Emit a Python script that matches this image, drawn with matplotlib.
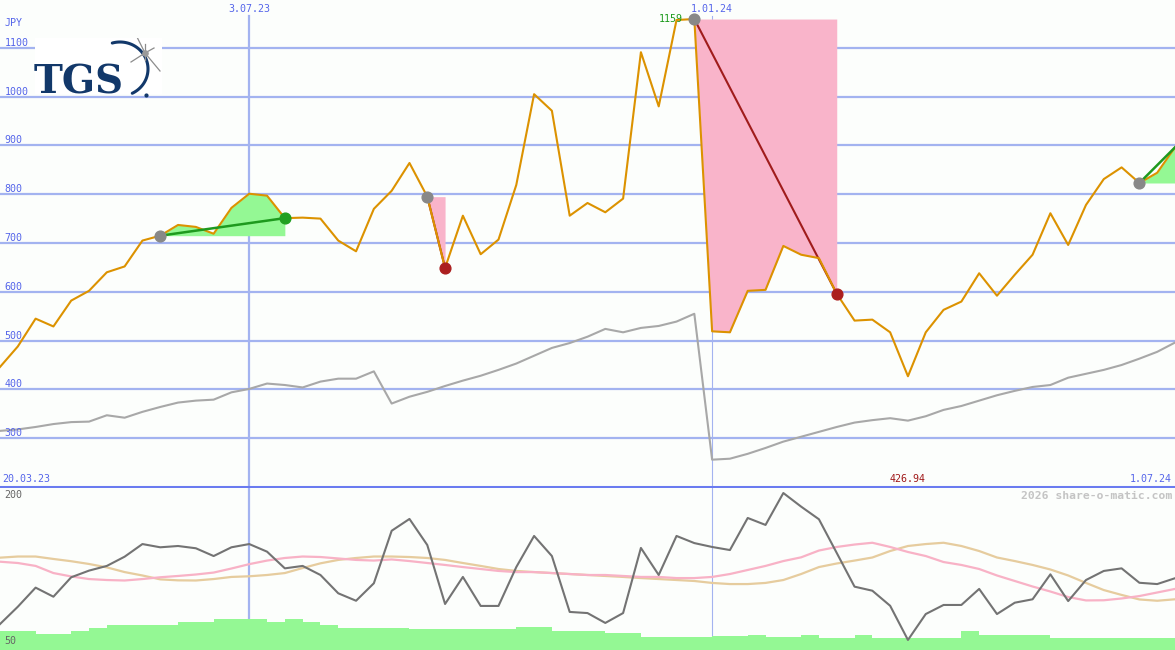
import numpy as np
import pandas as pd
import matplotlib
matplotlib.use("Agg")
import matplotlib.pyplot as plt
import matplotlib.transforms as mtransforms

# weekly closes (JPY) and a comparison series
dates = pd.date_range("2023-03-27", periods=67, freq="7D")

price = [446, 488, 545, 529, 582, 602, 640, 652, 705, 715,
         737, 733, 719, 772, 801, 797, 751, 752, 750, 705,
         683, 770, 807, 864, 795, 649, 756, 677, 707, 819,
         1005, 971, 756, 782, 763, 791, 1091, 980, 1157, 1159,
         519, 517, 602, 604, 694, 676, 669, 596, 541, 543,
         517, 426.94, 517, 563, 580, 638, 592, 635, 676, 761,
         696, 778, 831, 855, 823, 844, 896]

bench = [315, 318, 323, 329, 333, 334, 347, 342, 354, 364,
         373, 377, 379, 394, 401, 412, 409, 404, 416, 422,
         422, 437, 371, 385, 395, 407, 418, 428, 440, 453,
         469, 485, 495, 508, 524, 517, 526, 530, 539, 555,
         256, 258, 268, 280, 293, 303, 313, 323, 332, 337,
         341, 336, 345, 358, 366, 377, 388, 397, 405, 409,
         424, 432, 440, 450, 463, 477, 496]

# lower panel (0..100 scale)
mom = [16.0, 26.7, 38.5, 32.9, 44.9, 49.0, 51.9, 57.6, 65.4, 63.4,
       64.2, 62.8, 58.0, 63.4, 65.4, 60.7, 50.4, 51.9, 46.3, 35.0,
       30.4, 41.2, 73.6, 80.9, 64.8, 28.4, 45.1, 27.2, 27.2, 51.2,
       70.4, 58.0, 23.5, 22.8, 16.7, 22.8, 63.0, 46.3, 70.4, 66.0,
       63.6, 61.7, 81.5, 77.2, 96.9, 88.5, 80.7, 59.9, 39.1, 36.6,
       27.3, 6.2, 22.2, 27.8, 27.8, 37.7, 22.2, 29.2, 31.3, 46.7,
       30.2, 43.2, 48.8, 50.4, 41.5, 40.7, 44.3]

avg_fast = [54.5, 53.7, 51.9, 47.5, 45.4, 43.8, 43.2, 42.9, 43.8, 44.9,
            45.7, 46.6, 47.8, 50.3, 53.0, 55.2, 56.8, 57.7, 57.4, 56.5,
            55.6, 55.2, 55.9, 54.9, 53.7, 52.5, 51.2, 50.0, 48.8, 48.1,
            48.1, 47.5, 46.9, 46.3, 46.3, 45.7, 45.1, 45.1, 44.4, 44.4,
            45.1, 46.9, 49.4, 51.9, 54.9, 57.2, 61.4, 63.6, 65.1, 66.2,
            63.6, 60.5, 58.0, 54.3, 52.5, 50.0, 46.0, 42.6, 39.2, 36.1,
            32.7, 30.6, 30.7, 31.8, 33.3, 35.5, 37.7]

avg_slow = [57.0, 57.7, 57.7, 56.2, 54.8, 53.1, 51.0, 48.1, 46.0, 43.6,
            43.0, 42.9, 43.8, 45.1, 45.5, 46.3, 47.5, 50.6, 53.5, 55.6,
            56.8, 57.7, 57.7, 57.4, 56.8, 55.6, 53.7, 51.9, 50.0, 48.8,
            48.1, 47.5, 46.9, 46.3, 45.7, 45.1, 44.4, 43.8, 43.2, 42.6,
            41.4, 40.7, 40.7, 41.4, 43.2, 46.9, 51.2, 53.4, 55.2, 57.1,
            61.1, 64.2, 65.4, 66.2, 64.2, 61.1, 57.1, 54.9, 52.5, 49.7,
            46.0, 41.4, 37.0, 34.0, 31.2, 30.4, 31.3]

vol = [11.7, 11.7, 9.7, 9.7, 11.7, 13.8, 15.4, 15.4, 15.4, 15.4,
       17.3, 17.3, 19.1, 19.1, 19.1, 17.3, 19.1, 17.3, 15.4, 13.6,
       13.6, 13.6, 13.6, 13, 13, 13, 13, 13, 13, 14.2,
       14.2, 11.7, 11.7, 11.7, 10.5, 10.5, 8, 8, 8, 8,
       8.6, 8.6, 9.3, 8, 8, 9.3, 7.6, 7.6, 9.3, 7.6,
       7.6, 7.6, 7.6, 7.6, 11.7, 9.3, 9.3, 9.3, 9.3, 7.6,
       7.6, 7.6, 7.6, 7.6, 7.6, 7.6]

grid_levels = [300, 400, 500, 600, 700, 800, 900, 1000, 1100]
# (start, end, gain?) index pairs of the marked moves
moves = [(9, 16, True), (24, 25, False), (39, 47, False), (64, 66, True)]
date_marks = ["2023-07-03", "2024-01-01"]

BG = "#fcfefc"
GRID = "#a3b3f0"
LBL = "#5565ea"
MONO = "DejaVu Sans Mono"

fig = plt.figure(figsize=(11.75, 6.5), dpi=100, facecolor=BG)
ax = fig.add_axes([0, 163 / 650, 1, 487 / 650])
ax2 = fig.add_axes([0, 0, 1, 162 / 650])
for a in (ax, ax2):
    a.set_facecolor(BG)
    a.set_xlim(dates[0], dates[-1])
    for s in a.spines.values():
        s.set_visible(False)
    a.set_xticks([])
    a.set_yticks([])
ax.set_ylim(200, 1198)
ax2.set_ylim(0, 100)

yblend = mtransforms.blended_transform_factory(ax.transAxes, ax.transData)
xblend = mtransforms.blended_transform_factory(ax.transData, ax.transAxes)
lab_tr = mtransforms.offset_copy(yblend, fig=fig, y=2, units="dots")

for lv in grid_levels:
    ax.axhline(lv, color=GRID, lw=1.6, zorder=0)
    ax.text(0.004, lv, str(lv), transform=lab_tr, color=LBL, fontsize=7.2,
            family=MONO, va="baseline", ha="left")
ax.text(0.004, 0.952, "JPY", transform=ax.transAxes, color=LBL, fontsize=7.2,
        family=MONO, va="center", ha="left")

# date markers
for i, d in enumerate(date_marks):
    d = pd.Timestamp(d)
    lw = 1.6 if i == 0 else 0.8
    ax.axvline(d, ymin=0, ymax=0.967, color=GRID, lw=lw, zorder=0)
    ax2.axvline(d, color=GRID, lw=lw, zorder=0)
    lbl = f"{d.day}.{d.month:02d}.{d.strftime('%y')}"
    ax.text(d, 0.9815, lbl, transform=xblend, color=LBL, fontsize=7.2,
            family=MONO, ha="center", va="center")

ax.axhline(200, color="#6a7bf0", lw=2.2, zorder=5, clip_on=False)

# main series
ax.plot(dates, bench, color="#a8a8a8", lw=1.5, zorder=2)
ax.plot(dates, price, color="#dc9200", lw=1.5, zorder=3)

for s, e, up in moves:
    xs = dates[s:e + 1]
    ys = price[s:e + 1]
    if up:
        ax.fill_between(xs, price[s], ys, color="#94f894", lw=0, zorder=1)
        ax.plot([dates[s], dates[e]], [price[s], price[e]], color="#1e9a1e",
                lw=1.8, zorder=4)
    else:
        ax.fill_between(xs, ys, price[s], color="#f9b4ca", lw=0, zorder=1)
        ax.plot([dates[s], dates[e]], [price[s], price[e]], color="#a01c1c",
                lw=1.5, zorder=2.5)
    ax.scatter([dates[s]], [price[s]], s=60, color="#888888", zorder=6)
    if e < len(dates) - 1:
        ax.scatter([dates[e]], [price[e]], s=60, zorder=6,
                   color="#22a022" if up else "#ab1f1f")

imax = int(np.argmax(price))
imin = int(np.argmin(price))
ax.annotate(f"{price[imax]:g}", (dates[imax], price[imax]), xytext=(-8, 0),
            textcoords="offset points", color="#1c9a1c", fontsize=7.2,
            family=MONO, ha="right", va="center")
ax.text(dates[imin], 0.0164, f"{price[imin]:.2f}", transform=xblend,
        color="#a01818", fontsize=7.2, family=MONO, ha="center", va="center")
ax.text(0.002, 0.0164, "20.03.23", transform=ax.transAxes, color=LBL,
        fontsize=7.2, family=MONO, ha="left", va="center")
ax.text(0.9975, 0.0164, f"{dates[-1].day}.{dates[-1].month:02d}.{dates[-1].strftime('%y')}",
        transform=ax.transAxes, color=LBL, fontsize=7.2, family=MONO,
        ha="right", va="center")

# lower panel
ax2.bar(dates[:-1], vol, width=7, align="edge", color="#94f894", lw=0, zorder=1)
ax2.plot(dates, avg_slow, color="#e6cc9e", lw=1.6, zorder=2)
ax2.plot(dates, avg_fast, color="#f8b2c6", lw=1.6, zorder=2)
ax2.plot(dates, mom, color="#737373", lw=1.5, zorder=3)
ax2.text(0.004, 0.955, "200", transform=ax2.transAxes, color="#666666",
         fontsize=7.2, family=MONO, ha="left", va="center")
ax2.text(0.004, 0.055, "50", transform=ax2.transAxes, color="#666666",
         fontsize=7.2, family=MONO, ha="left", va="center")
ax2.text(0.9975, 0.95, "2026 share-o-matic.com", transform=ax2.transAxes,
         color="#c4c4c4", fontsize=8.2, family=MONO, weight="bold",
         ha="right", va="center")

# logo
lg = fig.add_axes([35 / 1175, 1 - 94 / 650, 127 / 1175, 56 / 650])
lg.set_xlim(35, 162)
lg.set_ylim(94, 38)
lg.set_facecolor("white")
for s in lg.spines.values():
    s.set_visible(False)
lg.set_xticks([])
lg.set_yticks([])
lg.text(34, 93, "TGS", color="#12386a", fontsize=28, family="DejaVu Serif",
        weight="bold", ha="left", va="baseline")
t = np.linspace(np.radians(106), np.radians(-64), 80)
lg.plot(120 + 28 * np.cos(t), 69 - 27 * np.sin(t), color="#12386a", lw=2.2,
        solid_capstyle="round", clip_on=False)
for dx, dy in [(-8, -16), (15, 18), (-14, 9), (9, -5), (0, -9), (0, 7)]:
    lg.plot([145, 145 + dx], [53, 53 + dy], color="#8c8c8c", lw=0.9)
lg.scatter([145], [53], s=14, color="#9a9a9a", zorder=3)
lg.scatter([146], [95], s=4, color="#12386a", clip_on=False)

fig.savefig("out.png", dpi=100, facecolor=BG)
